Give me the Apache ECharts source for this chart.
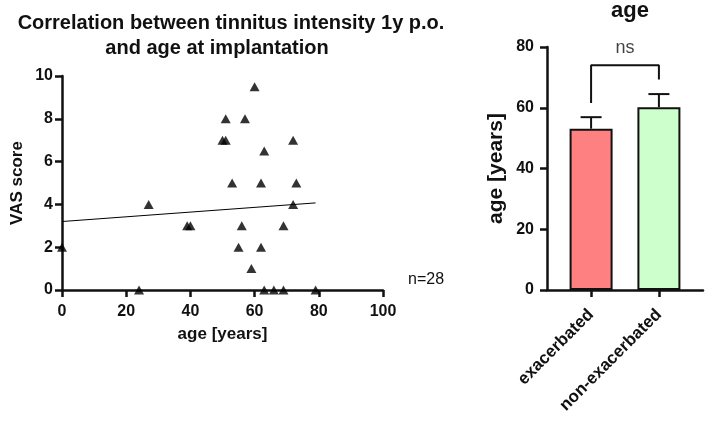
<!DOCTYPE html>
<html>
<head>
<meta charset="utf-8">
<script src="https://cdn.jsdelivr.net/npm/echarts@6/dist/echarts.min.js"></script>
<style>
  html, body { margin: 0; padding: 0; background: #fff; }
  #chart { width: 708px; height: 423px; }
</style>
</head>
<body>
<div id="chart"></div>
<script>
// scatter: age at implantation vs VAS score 1y p.o.
const ages = [0, 24, 27, 39, 40, 50, 51, 51, 53, 55, 56, 57, 59, 60, 62, 62, 63, 63, 66, 69, 69, 72, 72, 73, 79];
const vas = [2, 0, 4, 3, 3, 7, 7, 8, 5, 2, 3, 8, 1, 9.5, 2, 5, 0, 6.5, 0, 0, 3, 7, 4, 5, 0];
const fitX = [0, 79];
const fitY = [3.2, 4.07];

// bar panel
const groups = ['exacerbated', 'non-exacerbated'];
const groupMean = [53.1, 60.2];
const groupErr = [3.8, 4.3];
const groupColors = ['#ff8080', '#ccffcc'];
const bracketLegs = [61.6, 69.3];
const bracketTop = 74;

const font = "'Liberation Sans', Arial, sans-serif";
const ink = '#111';

const chart = echarts.init(document.getElementById('chart'));

const axisBase = {
  axisLine: { show: true, lineStyle: { color: ink, width: 2.5 } },
  axisTick: { show: true, inside: false, length: 7, lineStyle: { color: ink, width: 2.5 } },
  splitLine: { show: false },
  nameTextStyle: { fontFamily: font, fontWeight: 'bold', fontSize: 17, color: ink }
};
const lbl = { fontFamily: font, fontWeight: 'bold', fontSize: 16, color: ink };

chart.setOption({
  animation: false,
  backgroundColor: '#fff',
  title: [
    { text: 'Correlation between tinnitus intensity 1y p.o.', left: 226, top: 8, textAlign: 'center',
      textStyle: { fontFamily: font, fontWeight: 'bold', fontSize: 20, color: ink } },
    { text: 'and age at implantation', left: 212, top: 33, textAlign: 'center',
      textStyle: { fontFamily: font, fontWeight: 'bold', fontSize: 20, color: ink } },
    { text: 'age', left: 625, top: -5, textAlign: 'center',
      textStyle: { fontFamily: font, fontWeight: 'bold', fontSize: 22, color: ink } },
    { text: 'n=28', left: 403, top: 267,
      textStyle: { fontFamily: font, fontWeight: 'normal', fontSize: 16, color: ink } }
  ],
  grid: [
    { left: 62, right: 325, top: 76, bottom: 133 },
    { left: 547, right: 5, top: 47, bottom: 133 }
  ],
  xAxis: [
    Object.assign({}, axisBase, {
      gridIndex: 0, type: 'value', min: 0, max: 100, interval: 20,
      name: 'age [years]', nameLocation: 'middle', nameGap: 36,
      axisLabel: Object.assign({ margin: 14 }, lbl)
    }),
    Object.assign({}, axisBase, {
      gridIndex: 1, type: 'value', min: 0.35, max: 2.65,
      axisTick: Object.assign({}, axisBase.axisTick, { customValues: [1, 2] }),
      axisLabel: Object.assign({ margin: 22, rotate: 45, customValues: [1, 2],
        formatter: (v) => groups[Math.round(v) - 1] || '' }, lbl, { fontSize: 17 })
    })
  ],
  yAxis: [
    Object.assign({}, axisBase, {
      gridIndex: 0, type: 'value', min: 0, max: 10, interval: 2,
      name: 'VAS score', nameLocation: 'middle', nameGap: 36,
      axisLabel: Object.assign({ margin: 9 }, lbl)
    }),
    Object.assign({}, axisBase, {
      gridIndex: 1, type: 'value', min: 0, max: 80, interval: 20,
      name: 'age [years]', nameLocation: 'middle', nameGap: 40,
      nameTextStyle: Object.assign({}, axisBase.nameTextStyle, { fontSize: 21 }),
      axisLabel: Object.assign({ margin: 13 }, lbl)
    })
  ],
  series: [
    {
      type: 'scatter', xAxisIndex: 0, yAxisIndex: 0,
      symbol: 'triangle', symbolSize: [10, 9],
      itemStyle: { color: '#000' },
      data: ages.map((a, i) => [a, vas[i]]),
      z: 3
    },
    {
      type: 'line', xAxisIndex: 0, yAxisIndex: 0,
      showSymbol: false, symbol: 'none',
      lineStyle: { color: '#000', width: 1 },
      data: fitX.map((x, i) => [x, fitY[i]]),
      z: 2
    },
    {
      type: 'bar', xAxisIndex: 1, yAxisIndex: 1,
      barWidth: 43,
      data: groupMean.map((m, i) => ({
        value: [i + 1, m],
        itemStyle: { color: groupColors[i], borderColor: ink, borderWidth: 2 }
      })),
      z: 2
    },
    {
      type: 'custom', xAxisIndex: 1, yAxisIndex: 1,
      data: groupMean.map((m, i) => [i + 1, m, m + groupErr[i]]),
      renderItem: (params, api) => {
        const base = api.coord([api.value(0), api.value(1)]);
        const top = api.coord([api.value(0), api.value(2)]);
        const style = { stroke: ink, lineWidth: 2 };
        return {
          type: 'group',
          children: [
            { type: 'line', shape: { x1: base[0], y1: base[1], x2: top[0], y2: top[1] }, style },
            { type: 'line', shape: { x1: top[0] - 10.5, y1: top[1], x2: top[0] + 10.5, y2: top[1] }, style }
          ]
        };
      },
      z: 3
    },
    {
      type: 'line', xAxisIndex: 1, yAxisIndex: 1,
      symbol: 'none',
      lineStyle: { color: ink, width: 2 },
      data: [[1, bracketLegs[0]], [1, bracketTop], [2, bracketTop], [2, bracketLegs[1]]],
      z: 3
    },
    {
      type: 'scatter', xAxisIndex: 1, yAxisIndex: 1,
      symbolSize: 1, itemStyle: { color: 'transparent' },
      label: { show: true, position: 'inside', formatter: 'ns',
        fontFamily: font, fontSize: 18, color: ink },
      data: [[1.5, 79.6]]
    }
  ]
});
</script>
</body>
</html>
